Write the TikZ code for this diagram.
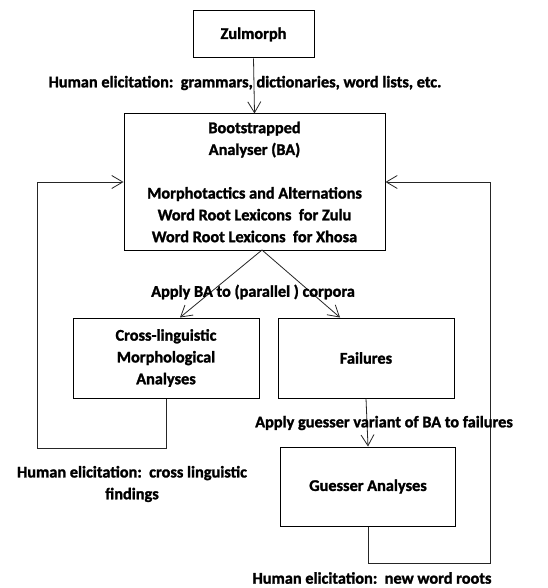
\documentclass[tikz,border=0pt]{standalone}
\usepackage{fontspec}
\setmainfont{Carlito}[BoldFeatures={FakeBold=1.5}]
\usetikzlibrary{arrows.meta,calc}
\begin{document}
\begin{tikzpicture}[x=1pt,y=-1pt,
  txt/.style={font=\bfseries\fontsize{16.3}{21.8}\selectfont, align=center, inner sep=0pt},
  box/.style={draw=black, line width=1pt, rectangle, inner sep=0pt, txt},
  arr/.style={draw=black!85, line width=0.8pt, -{Straight Barb[length=11pt,width=13pt,line width=0.8pt]}},
  ln/.style={draw=black!85, line width=0.8pt}]
\useasboundingbox (0,0) rectangle (547,588);
\fill[white] (0,0) rectangle (547,588);
% boxes
\node[box, minimum width=121pt, minimum height=47pt] (zul) at (253.5,34.5) {Zulmorph};
\node[box, minimum width=261pt, minimum height=136pt] (ba) at (254.5,182) {Bootstrapped\\Analyser (BA)\\[21.8pt]Morphotactics and Alternations\\Word Root Lexicons\ \ for Zulu\\Word Root Lexicons\ \ for Xhosa};
\node[box, minimum width=186pt, minimum height=80pt] (cross) at (166,358) {Cross-linguistic\\Morphological\\Analyses};
\node[box, minimum width=176pt, minimum height=80pt] (fail) at (366,358) {Failures};
\node[box, minimum width=175pt, minimum height=79pt] (guess) at (368,486.5) {Guesser Analyses};
% coordinates
\coordinate (bafork) at (262,250);
\coordinate (L1) at (37,448);
\coordinate (R1) at (490,563);
% connectors
\draw[arr] (zul.south) -- (ba.north);
\draw[arr] (bafork) -- ($(cross.north)+(14,0)$);
\draw[arr] (bafork) -- ($(fail.north)+(-26,0)$);
\draw[arr] (fail.south) -- (guess.north);
\draw[arr] (cross.south) |- (L1) |- (ba.west);
\draw[arr] (guess.south) |- (R1) |- (ba.east);
% labels
\node[txt] (l1) at (245,83) {Human elicitation:\ \ grammars, dictionaries, word lists, etc.};
\node[txt] (l2) at (253,292) {Apply BA to (parallel ) corpora};
\node[txt] (l3) at (384,423) {Apply guesser variant of BA to failures};
\node[txt] (l4) at (132,484) {Human elicitation:\ \ cross linguistic\\findings};
\node[txt] (l5) at (372,578) {Human elicitation:\ \ new word roots};
\end{tikzpicture}
\end{document}
